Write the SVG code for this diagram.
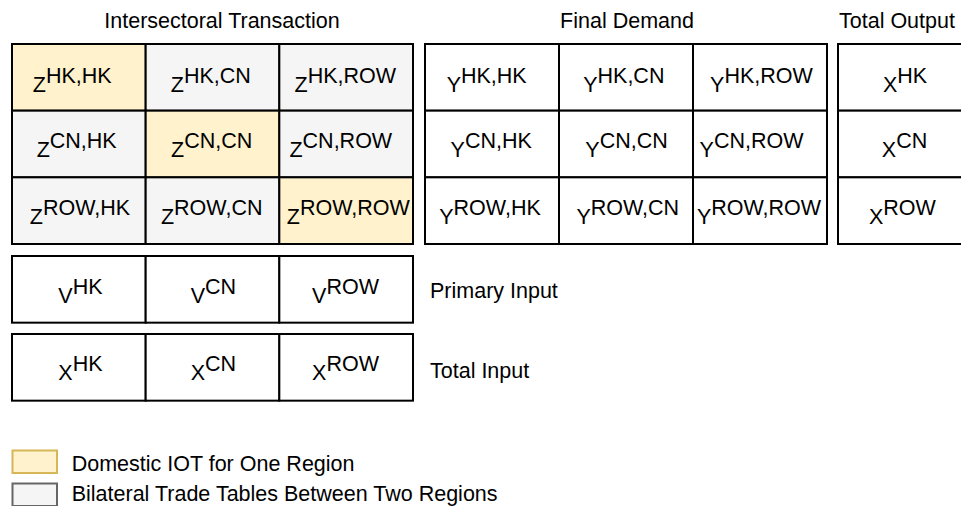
<svg xmlns="http://www.w3.org/2000/svg" width="961" height="506" viewBox="0 0 961 506">
<style>
text{font-family:"Liberation Sans",Arial,Helvetica,sans-serif;font-size:21.5px;fill:#000}
.c{text-anchor:middle}
.cell{stroke:#000;stroke-width:2}
.w{fill:#ffffff}
.g{fill:#f5f5f5}
.y{fill:#fff2cc}
</style>
<rect width="961" height="506" fill="#fff"/>
<g id="titles">
<text class="c" x="222" y="28.3">Intersectoral Transaction</text>
<text class="c" x="627" y="28.3">Final Demand</text>
<text x="839" y="28.3">Total Output</text>
</g>
<g id="Z-table">
<g id="z-hk-hk"><rect class="cell y" x="12" y="44" width="133.67" height="66.67"/><text class="c" x="72.2" y="91.5">Z<tspan dy="-9">HK,HK</tspan></text></g>
<g id="z-hk-cn"><rect class="cell g" x="145.67" y="44" width="133.67" height="66.67"/><text class="c" x="210.8" y="91.5">Z<tspan dy="-9">HK,CN</tspan></text></g>
<g id="z-hk-row"><rect class="cell g" x="279.33" y="44" width="133.67" height="66.67"/><text class="c" x="345.3" y="91.5">Z<tspan dy="-9">HK,ROW</tspan></text></g>
<g id="z-cn-hk"><rect class="cell g" x="12" y="110.67" width="133.67" height="66.67"/><text class="c" x="76.7" y="157">Z<tspan dy="-9">CN,HK</tspan></text></g>
<g id="z-cn-cn"><rect class="cell y" x="145.67" y="110.67" width="133.67" height="66.67"/><text class="c" x="211.7" y="157">Z<tspan dy="-9">CN,CN</tspan></text></g>
<g id="z-cn-row"><rect class="cell g" x="279.33" y="110.67" width="133.67" height="66.67"/><text class="c" x="340.8" y="157">Z<tspan dy="-9">CN,ROW</tspan></text></g>
<g id="z-row-hk"><rect class="cell g" x="12" y="177.33" width="133.67" height="66.67"/><text class="c" x="80" y="224">Z<tspan dy="-9">ROW,HK</tspan></text></g>
<g id="z-row-cn"><rect class="cell g" x="145.67" y="177.33" width="133.67" height="66.67"/><text class="c" x="211.7" y="224">Z<tspan dy="-9">ROW,CN</tspan></text></g>
<g id="z-row-row"><rect class="cell y" x="279.33" y="177.33" width="133.67" height="66.67"/><text class="c" x="348.3" y="224">Z<tspan dy="-9">ROW,ROW</tspan></text></g>
</g>
<g id="Y-table">
<g id="y-hk-hk"><rect class="cell w" x="425" y="44" width="134" height="66.67"/><text class="c" x="486.7" y="91.5">Y<tspan dy="-9">HK,HK</tspan></text></g>
<g id="y-hk-cn"><rect class="cell w" x="559" y="44" width="134" height="66.67"/><text class="c" x="623.8" y="91.5">Y<tspan dy="-9">HK,CN</tspan></text></g>
<g id="y-hk-row"><rect class="cell w" x="693" y="44" width="134" height="66.67"/><text class="c" x="761.4" y="91.5">Y<tspan dy="-9">HK,ROW</tspan></text></g>
<g id="y-cn-hk"><rect class="cell w" x="425" y="110.67" width="134" height="66.67"/><text class="c" x="491.2" y="157">Y<tspan dy="-9">CN,HK</tspan></text></g>
<g id="y-cn-cn"><rect class="cell w" x="559" y="110.67" width="134" height="66.67"/><text class="c" x="626.5" y="157">Y<tspan dy="-9">CN,CN</tspan></text></g>
<g id="y-cn-row"><rect class="cell w" x="693" y="110.67" width="134" height="66.67"/><text class="c" x="751.5" y="157">Y<tspan dy="-9">CN,ROW</tspan></text></g>
<g id="y-row-hk"><rect class="cell w" x="425" y="177.33" width="134" height="66.67"/><text class="c" x="490" y="224">Y<tspan dy="-9">ROW,HK</tspan></text></g>
<g id="y-row-cn"><rect class="cell w" x="559" y="177.33" width="134" height="66.67"/><text class="c" x="627.8" y="224">Y<tspan dy="-9">ROW,CN</tspan></text></g>
<g id="y-row-row"><rect class="cell w" x="693" y="177.33" width="134" height="66.67"/><text class="c" x="759" y="224">Y<tspan dy="-9">ROW,ROW</tspan></text></g>
</g>
<g id="X-output">
<g id="xo-hk"><rect class="cell w" x="838" y="44" width="134" height="66.67"/><text class="c" x="905" y="91.5">X<tspan dy="-9">HK</tspan></text></g>
<g id="xo-cn"><rect class="cell w" x="838" y="110.67" width="134" height="66.67"/><text class="c" x="904.5" y="157">X<tspan dy="-9">CN</tspan></text></g>
<g id="xo-row"><rect class="cell w" x="838" y="177.33" width="134" height="66.67"/><text class="c" x="902.4" y="224">X<tspan dy="-9">ROW</tspan></text></g>
</g>
<g id="V-row">
<g id="v-hk"><rect class="cell w" x="12" y="256" width="133.67" height="66.67"/><text class="c" x="80.4" y="303">V<tspan dy="-9">HK</tspan></text></g>
<g id="v-cn"><rect class="cell w" x="145.67" y="256" width="133.67" height="66.67"/><text class="c" x="213.4" y="303">V<tspan dy="-9">CN</tspan></text></g>
<g id="v-row"><rect class="cell w" x="279.33" y="256" width="133.67" height="66.67"/><text class="c" x="345.5" y="303">V<tspan dy="-9">ROW</tspan></text></g>
<text x="430" y="298.3">Primary Input</text>
</g>
<g id="X-input">
<g id="xi-hk"><rect class="cell w" x="12" y="334" width="133.67" height="66.67"/><text class="c" x="80.4" y="380">X<tspan dy="-9">HK</tspan></text></g>
<g id="xi-cn"><rect class="cell w" x="145.67" y="334" width="133.67" height="66.67"/><text class="c" x="213.4" y="380">X<tspan dy="-9">CN</tspan></text></g>
<g id="xi-row"><rect class="cell w" x="279.33" y="334" width="133.67" height="66.67"/><text class="c" x="345.5" y="380">X<tspan dy="-9">ROW</tspan></text></g>
<text x="430" y="378.3">Total Input</text>
</g>
<g id="legend">
<g id="legend-domestic"><rect x="12.5" y="450.5" width="44.5" height="22.5" fill="#fff2cc" stroke="#d6b656" stroke-width="2"/><text x="71.7" y="471.2">Domestic IOT for One Region</text></g>
<g id="legend-bilateral"><rect x="12.5" y="483.5" width="44.5" height="22.5" fill="#f5f5f5" stroke="#666666" stroke-width="2"/><text x="71.7" y="500.8">Bilateral Trade Tables Between Two Regions</text></g>
</g>
<g id="connectors"/>
</svg>
